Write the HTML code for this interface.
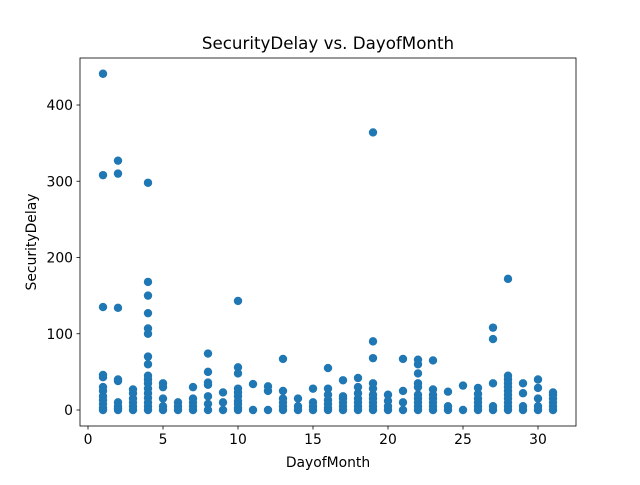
<!DOCTYPE html>
<html><head><meta charset="utf-8"><style>
body{margin:0;background:#fff;}
svg text{font-family:"DejaVu Sans","Liberation Sans",sans-serif;fill:#000;}
</style></head><body>
<svg id="chart" width="640" height="480">
<rect x="0" y="0" width="640" height="480" fill="#fff"/>
<g id="marks"></g>
<rect x="80" y="58" width="496" height="368" fill="none" stroke="#000" stroke-width="0.8"/>
<g id="axes"></g>
<text x="328" y="49" text-anchor="middle" font-size="16.7">SecurityDelay vs. DayofMonth</text>
<text x="328" y="467" text-anchor="middle" font-size="13.9">DayofMonth</text>
<text x="0" y="0" transform="translate(36,242) rotate(-90)" text-anchor="middle" font-size="13.9">SecurityDelay</text>
</svg>
<script>
const days = [1,2,3,4,5,6,7,8,9,10,11,12,13,14,15,16,17,18,19,20,21,22,23,24,25,26,27,28,29,30,31];
const delays = [
[0,3,8,13,18,25,30,43,46,135,308,441],
[0,2,5,10,38,40,134,310,327],
[0,5,10,15,22,27],
[0,5,10,16,22,28,35,40,45,60,70,100,107,127,150,168,298],
[0,5,15,30,35],
[0,5,10],
[0,5,10,15,30],
[0,8,18,33,36,50,74],
[0,10,23],
[0,3,8,12,18,23,28,48,56,143],
[0,34],
[0,25,31],
[0,5,10,15,25,67],
[0,5,15],
[0,5,10,28],
[0,3,8,13,20,28,55],
[0,5,10,15,18,39],
[0,5,10,15,22,30,42],
[0,5,10,15,20,28,35,68,90,364],
[0,5,12,20],
[0,10,25,67],
[0,5,10,15,20,30,35,48,60,66],
[0,5,10,15,20,27,65],
[0,5,24],
[0,32],
[0,5,10,15,21,29],
[0,5,35,93,108],
[0,5,10,15,20,25,30,35,40,45,172],
[0,5,22,35],
[0,5,15,29,40],
[0,5,10,15,20,23]
];
const xTicks = [0,5,10,15,20,25,30];
const yTicks = [0,100,200,300,400];
const NS="http://www.w3.org/2000/svg";
const xs = v => 88 + v*15;
const ys = v => 410 - v*0.7625;
const marks=document.getElementById('marks');
days.forEach((d,i)=>{delays[i].forEach(v=>{
  const c=document.createElementNS(NS,'circle');
  c.setAttribute('cx',xs(d));c.setAttribute('cy',ys(v));c.setAttribute('r',4.2);c.setAttribute('fill','#1f77b4');
  
  
  marks.appendChild(c);
});});
const axes=document.getElementById('axes');
xTicks.forEach(t=>{
  const l=document.createElementNS(NS,'line');
  l.setAttribute('x1',xs(t));l.setAttribute('x2',xs(t));l.setAttribute('y1',426);l.setAttribute('y2',429.5);l.setAttribute('stroke','#000');l.setAttribute('stroke-width','0.8');
  
  
  axes.appendChild(l);
  const tx=document.createElementNS(NS,'text');
  tx.setAttribute('x',xs(t));tx.setAttribute('y',444);tx.setAttribute('text-anchor','middle');tx.setAttribute('font-size','13.9');tx.textContent=t;
  
  
  axes.appendChild(tx);
});
yTicks.forEach(t=>{
  const l=document.createElementNS(NS,'line');
  l.setAttribute('x1',76.5);l.setAttribute('x2',80);l.setAttribute('y1',ys(t));l.setAttribute('y2',ys(t));l.setAttribute('stroke','#000');l.setAttribute('stroke-width','0.8');
  
  
  axes.appendChild(l);
  const tx=document.createElementNS(NS,'text');
  tx.setAttribute('x',73);tx.setAttribute('y',ys(t)+5);tx.setAttribute('text-anchor','end');tx.setAttribute('font-size','13.9');tx.textContent=t;
  
  
  axes.appendChild(tx);
});
</script>
</body></html>
